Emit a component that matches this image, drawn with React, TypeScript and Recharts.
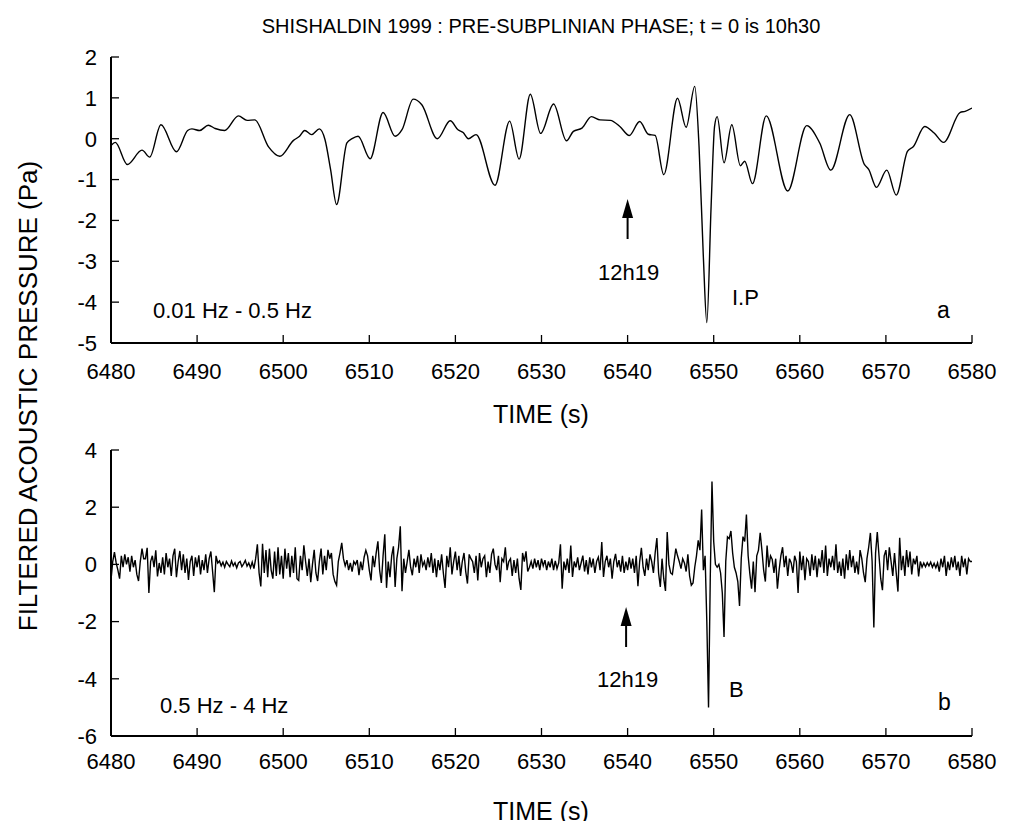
import { Line, LineChart, XAxis, YAxis } from 'recharts'

const FONT = '"Liberation Sans", Arial, Helvetica, sans-serif'

const TIME_TICKS = [6480, 6490, 6500, 6510, 6520, 6530, 6540, 6550, 6560, 6570, 6580]
const LOW_BAND_TICKS = [-5, -4, -3, -2, -1, 0, 1, 2]
const HIGH_BAND_TICKS = [-6, -4, -2, 0, 2, 4]

// panel a : 0.01 - 0.5 Hz, [time, Pa]
const lowBandPoints: [number, number][] = [
  [6480.0, -0.17], [6480.5, -0.09], [6481.9, -0.63], [6483.6, -0.28], [6484.5, -0.45],
  [6485.8, 0.34], [6487.6, -0.32], [6488.9, 0.2], [6489.4, 0.24], [6490.3, 0.2],
  [6491.3, 0.33], [6492.1, 0.25], [6493.2, 0.2], [6494.8, 0.56], [6495.8, 0.45],
  [6496.7, 0.46], [6498.3, -0.2], [6499.6, -0.43], [6501.2, -0.04], [6501.9, 0.06],
  [6502.5, 0.2], [6503.3, 0.1], [6504.2, 0.24], [6504.85, -0.02], [6505.5, -0.75],
  [6506.2, -1.61], [6507.4, -0.1], [6508.0, 0.0], [6508.7, 0.06], [6510.1, -0.49],
  [6511.6, 0.64], [6513.0, 0.06], [6513.8, 0.22], [6515.1, 0.97], [6516.1, 0.83],
  [6517.9, 0.0], [6519.4, 0.44], [6520.3, 0.22], [6520.9, 0.15], [6521.5, 0.0],
  [6522.4, 0.1], [6524.6, -1.14], [6526.3, 0.43], [6527.4, -0.5], [6528.7, 1.09],
  [6529.9, 0.13], [6531.4, 0.85], [6532.9, -0.05], [6533.7, 0.18], [6534.7, 0.26],
  [6535.8, 0.54], [6536.8, 0.46], [6538.0, 0.45], [6539.1, 0.3], [6540.2, 0.08],
  [6541.4, 0.42], [6542.4, 0.11], [6543.2, 0.08], [6544.2, -0.88], [6545.8, 0.99],
  [6546.8, 0.28], [6547.8, 1.28], [6548.3, -0.2], [6548.8, -2.9], [6549.2, -4.5],
  [6549.7, -1.65], [6550.1, 0.3], [6550.4, 0.54], [6551.2, -0.59], [6552.1, 0.34],
  [6553.1, -0.66], [6553.6, -0.55], [6554.5, -1.1], [6556.1, 0.56], [6558.6, -1.28],
  [6560.8, 0.32], [6562.3, -0.1], [6563.6, -0.77], [6565.8, 0.59], [6567.5, -0.63],
  [6568.0, -0.75], [6568.9, -1.19], [6570.1, -0.77], [6571.2, -1.38], [6572.5, -0.31],
  [6573.2, -0.19], [6574.5, 0.3], [6575.6, 0.14], [6576.7, -0.09], [6578.6, 0.64],
  [6579.2, 0.67], [6580.0, 0.75],
]

// panel b : 0.5 - 4 Hz, sampled every 0.2 s, one row per second
const HIGH_BAND_START = 6480
const HIGH_BAND_STEP = 0.2

const highBand6480 = [
  -0.55, 0.1, 0.43, 0.05, -0.2,
  -0.5, 0.3, -0.1, 0.35, 0.0,
  0.25, -0.25, 0.3, -0.1, 0.15,
  -0.35, -0.58, 0.1, 0.55, 0.2,
  0.2, 0.58, -1.0, 0.1, 0.3,
  -0.1, 0.49, -0.42, 0.05, -0.3,
  0.25, -0.35, 0.4, -0.1, 0.2,
  -0.4, 0.3, 0.55, -0.45, 0.1,
  0.47, -0.2, 0.35, -0.3, 0.2,
  -0.54, 0.1, 0.3, -0.4, 0.25,
  -0.1, 0.32, -0.35, 0.15, -0.2,
  0.35, -0.3, 0.2, 0.45, -0.25,
  -0.97, 0.3, 0.05, 0.12, -0.05,
  0.08, -0.1, 0.1, 0.0, -0.08,
  0.12, -0.05, 0.06, -0.12, 0.05,
  0.1, -0.08, 0.02, 0.14, -0.06,
  0.05, -0.12, 0.08, -0.15, 0.2,
  0.7, -0.3, -0.77, 0.72, -0.3,
  0.5, -0.45, 0.55, -0.2, -0.5,
  0.45, -0.4, 0.6, -0.35, 0.3,
  -0.5, 0.55, -0.15, 0.4, -0.45,
  0.3, -0.3, 0.6, -0.5, -0.56,
  0.3, -0.2, 0.67, 0.1, -0.4,
  0.2, -0.62, 0.0, 0.51, -0.3,
  -0.58, 0.1, 0.55, -0.35, 0.3,
]

const highBand6505 = [
  -0.2, 0.51, 0.2, 0.4, -0.35,
  -0.6, -0.73, 0.1, 0.4, 0.75,
  0.2, -0.05, 0.15, -0.2, 0.05,
  -0.25, 0.1, 0.0, 0.15, -0.38,
  0.1, -0.2, 0.25, 0.49, 0.3,
  -0.2, -0.56, 0.3, -0.1, 0.4,
  0.81, -0.2, -0.65, 0.3, 1.05,
  -0.82, 0.1, -0.45, 0.3, 0.63,
  -0.79, 0.2, 0.6, 1.33, -0.94,
  0.2, -0.3, 0.1, 0.51, -0.1,
  -0.38, 0.2, -0.1, 0.3, -0.3,
  0.35, -0.05, 0.1, -0.2, 0.25,
  -0.1, 0.4, -0.3, 0.2, -0.45,
  0.15, -0.2, 0.35, -0.3, -0.82,
  0.3, -0.1, 0.6, -0.35, 0.1,
  0.45, -0.2, 0.3, -0.4, 0.1,
  0.4, -0.25, -0.67, 0.35, 0.2,
  0.1, -0.3, 0.3, -0.56, 0.4,
  -0.1, 0.2, 0.3, -0.45, 0.1,
  -0.3, 0.35, 0.55, 0.0, -0.2,
  0.3, -0.62, 0.2, 0.1, 0.6,
  -0.2, 0.1, 0.2, -0.4, 0.15,
  -0.3, 0.2, -0.5, -0.89, 0.4,
  0.1, 0.46, -0.25, -0.1, 0.1,
  -0.15, 0.2, -0.1, 0.15, -0.2,
]

const highBand6530 = [
  0.2, -0.05, 0.15, -0.2, 0.1,
  -0.1, 0.2, -0.2, 0.12, -0.15,
  0.05, 0.7, -0.85, 0.1, -0.2,
  0.2, -0.3, 0.66, -0.44, 0.1,
  -0.1, 0.25, -0.2, 0.05, 0.31,
  -0.25, 0.15, -0.35, 0.25, -0.1,
  0.2, -0.3, 0.1, 0.25, -0.2,
  0.78, -0.44, 0.1, 0.3, -0.1,
  0.2, -0.5, 0.1, 0.37, -0.1,
  0.15, -0.25, 0.3, -0.3, 0.1,
  -0.2, 0.25, -0.15, 0.2, -0.3,
  0.3, -0.76, 0.1, 0.58, -0.1,
  -0.4, 0.2, -0.2, 0.35, 0.1,
  -0.3, 0.4, 0.92, -0.3, -0.79,
  0.2, -0.5, -0.93, 1.13, 0.0,
  -0.3, -0.35, 0.1, 0.55, 0.3,
  0.1, -0.15, 0.2, 0.05, -0.25,
  0.35, -0.4, -0.73, -0.65, -0.1,
  0.3, 0.84, 0.5, 1.92, -0.2,
  0.3, -2.0, -5.0, -0.5, 2.9,
  0.8, 0.0, -0.1, 0.0, -0.3,
  -1.0, -2.54, 0.1, 0.96, 0.9,
  1.17, 0.4, -0.1, -0.3, -0.6,
  -1.45, 0.2, 0.97, 0.8, 1.74,
  0.3, -0.33, -0.85, 0.1, -0.97,
]

const highBand6555 = [
  0.3, 0.5, 1.1, 0.5, -0.2,
  -0.6, 0.66, -0.1, 0.3, 0.17,
  -0.3, 0.2, -0.85, -0.2, 0.3,
  0.6, -0.1, 0.3, -0.4, 0.2,
  0.05, -0.3, 0.3, 0.1, -1.0,
  0.45, -0.2, 0.3, -0.55, 0.2,
  0.1, -0.4, 0.35, -0.2, 0.3,
  -0.45, 0.2, -0.1, 0.5, -0.3,
  0.66, -0.4, 0.2, -0.1, 0.3,
  -0.2, 0.7, -0.3, 0.1, -0.4,
  0.2, -0.5, 0.35, -0.2, 0.5,
  -0.1, 0.3, -0.3, 0.1, -0.35,
  0.5, 0.2, -0.3, -0.62, 0.2,
  0.6, 1.1, 0.1, -2.21, 0.4,
  1.13, 0.3, -0.5, -0.9, 0.3,
  0.5, -0.2, 0.6, 0.1, -0.4,
  0.4, -0.3, -0.95, 0.93, -0.2,
  0.3, -0.4, 0.5, -0.1, 0.45,
  -0.35, 0.2, 0.0, 0.3, -0.42,
  0.1, -0.1, 0.05, -0.08, 0.06,
  -0.05, 0.08, -0.1, 0.04, -0.12,
  0.05, -0.25, 0.2, -0.1, 0.3,
  -0.4, 0.1, -0.2, 0.25, -0.1,
  0.3, -0.2, 0.1, -0.4, 0.3,
  -0.1, 0.2, -0.35, 0.2, 0.1,
  0.1,
]

const lowBandRows = lowBandPoints.map(([t, v]) => ({ t, v }))
const highBandRows = [...highBand6480, ...highBand6505, ...highBand6530, ...highBand6555].map(
  (v, i) => ({ t: Math.round((HIGH_BAND_START + i * HIGH_BAND_STEP) * 10) / 10, v }),
)

// plot box, page pixels (body has an 8px margin)
const PLOT_LEFT = 111
const PLOT_RIGHT = 972
const timeToX = (t: number) => PLOT_LEFT + ((t - 6480) / 100) * (PLOT_RIGHT - PLOT_LEFT)

const frameLine = { stroke: '#000', strokeWidth: 2 }
const tickLine = { stroke: '#000', strokeWidth: 1.3 }
const tickFont = { fontSize: 22, fill: '#000', fontFamily: FONT }
const noLabel = () => ''

interface PanelProps {
  rows: { t: number; v: number }[]
  domain: [number, number]
  ticks: number[]
  height: number
  marginTop: number
  labelGap: number
  curve: 'monotone' | 'linear'
  top: number
}

function Panel({ rows, domain, ticks, height, marginTop, labelGap, curve, top }: PanelProps) {
  return (
    <div style={{ position: 'absolute', left: 0, top }}>
      <LineChart
        width={1002}
        height={height}
        data={rows}
        margin={{ top: marginTop, right: 38, bottom: height - marginTop - 286 - 40, left: 0 }}
      >
        <XAxis
          xAxisId="bottom"
          dataKey="t"
          type="number"
          domain={[6480, 6580]}
          ticks={TIME_TICKS}
          interval={0}
          allowDataOverflow
          height={40}
          tickSize={-8}
          tickMargin={labelGap}
          axisLine={frameLine}
          tickLine={tickLine}
          tick={tickFont}
        />
        <XAxis
          xAxisId="top"
          orientation="top"
          dataKey="t"
          type="number"
          domain={[6480, 6580]}
          ticks={TIME_TICKS}
          interval={0}
          allowDataOverflow
          height={0}
          tickSize={-8}
          tickFormatter={noLabel}
          axisLine={frameLine}
          tickLine={tickLine}
        />
        <YAxis
          yAxisId="left"
          type="number"
          domain={domain}
          ticks={ticks}
          interval={0}
          allowDataOverflow
          width={103}
          tickSize={-8}
          tickMargin={22}
          axisLine={frameLine}
          tickLine={tickLine}
          tick={tickFont}
        />
        <YAxis
          yAxisId="right"
          orientation="right"
          type="number"
          domain={domain}
          ticks={ticks}
          interval={0}
          allowDataOverflow
          width={0}
          tickSize={-8}
          tickFormatter={noLabel}
          axisLine={frameLine}
          tickLine={tickLine}
        />
        <Line
          xAxisId="bottom"
          yAxisId="left"
          dataKey="v"
          type={curve}
          stroke="#000"
          strokeWidth={1.4}
          dot={false}
          isAnimationActive={false}
        />
      </LineChart>
    </div>
  )
}

function Arrow({ x, tip, tail }: { x: number; tip: number; tail: number }) {
  return (
    <g>
      <line x1={x} y1={tail} x2={x} y2={tip + 12} stroke="#000" strokeWidth={2} />
      <polygon points={`${x},${tip} ${x - 5.5},${tip + 19} ${x + 5.5},${tip + 19}`} fill="#000" />
    </g>
  )
}

export default function App() {
  const arrowX = timeToX(6540)
  const text = { fontFamily: FONT, fill: '#000' }
  return (
    <div style={{ position: 'relative', width: 1002, height: 813 }}>
      <Panel
        rows={lowBandRows}
        domain={[-5, 2]}
        ticks={LOW_BAND_TICKS}
        height={400}
        marginTop={49}
        labelGap={28}
        curve="monotone"
        top={0}
      />
      <Panel
        rows={highBandRows}
        domain={[-6, 4]}
        ticks={HIGH_BAND_TICKS}
        height={413}
        marginTop={42}
        labelGap={25}
        curve="linear"
        top={400}
      />
      <svg
        width={1002}
        height={813}
        style={{ position: 'absolute', left: 0, top: 0, pointerEvents: 'none', overflow: 'visible' }}
      >
        <g transform="translate(-8,-8)">
          <text x={541} y={33} textAnchor="middle" fontSize={20} {...text}>
            SHISHALDIN 1999 : PRE-SUBPLINIAN PHASE; t = 0 is 10h30
          </text>
          <text transform="translate(37,396) rotate(-90)" textAnchor="middle" fontSize={26} {...text}>
            FILTERED ACOUSTIC PRESSURE (Pa)
          </text>
          <text x={541} y={423} textAnchor="middle" fontSize={25} {...text}>
            TIME (s)
          </text>
          <text x={541} y={820} textAnchor="middle" fontSize={25} {...text}>
            TIME (s)
          </text>

          <text x={153} y={318} fontSize={22} {...text}>0.01 Hz - 0.5 Hz</text>
          <text x={598} y={280} fontSize={22} {...text}>12h19</text>
          <text x={732} y={305} fontSize={22} {...text}>I.P</text>
          <text x={937} y={318} fontSize={23} {...text}>a</text>
          <Arrow x={arrowX} tip={199} tail={239} />

          <text x={160} y={713} fontSize={22} {...text}>0.5 Hz - 4 Hz</text>
          <text x={597} y={687} fontSize={22} {...text}>12h19</text>
          <text x={729} y={697} fontSize={22} {...text}>B</text>
          <text x={938} y={710} fontSize={23} {...text}>b</text>
          <Arrow x={arrowX - 1.5} tip={607} tail={647} />
        </g>
      </svg>
    </div>
  )
}
